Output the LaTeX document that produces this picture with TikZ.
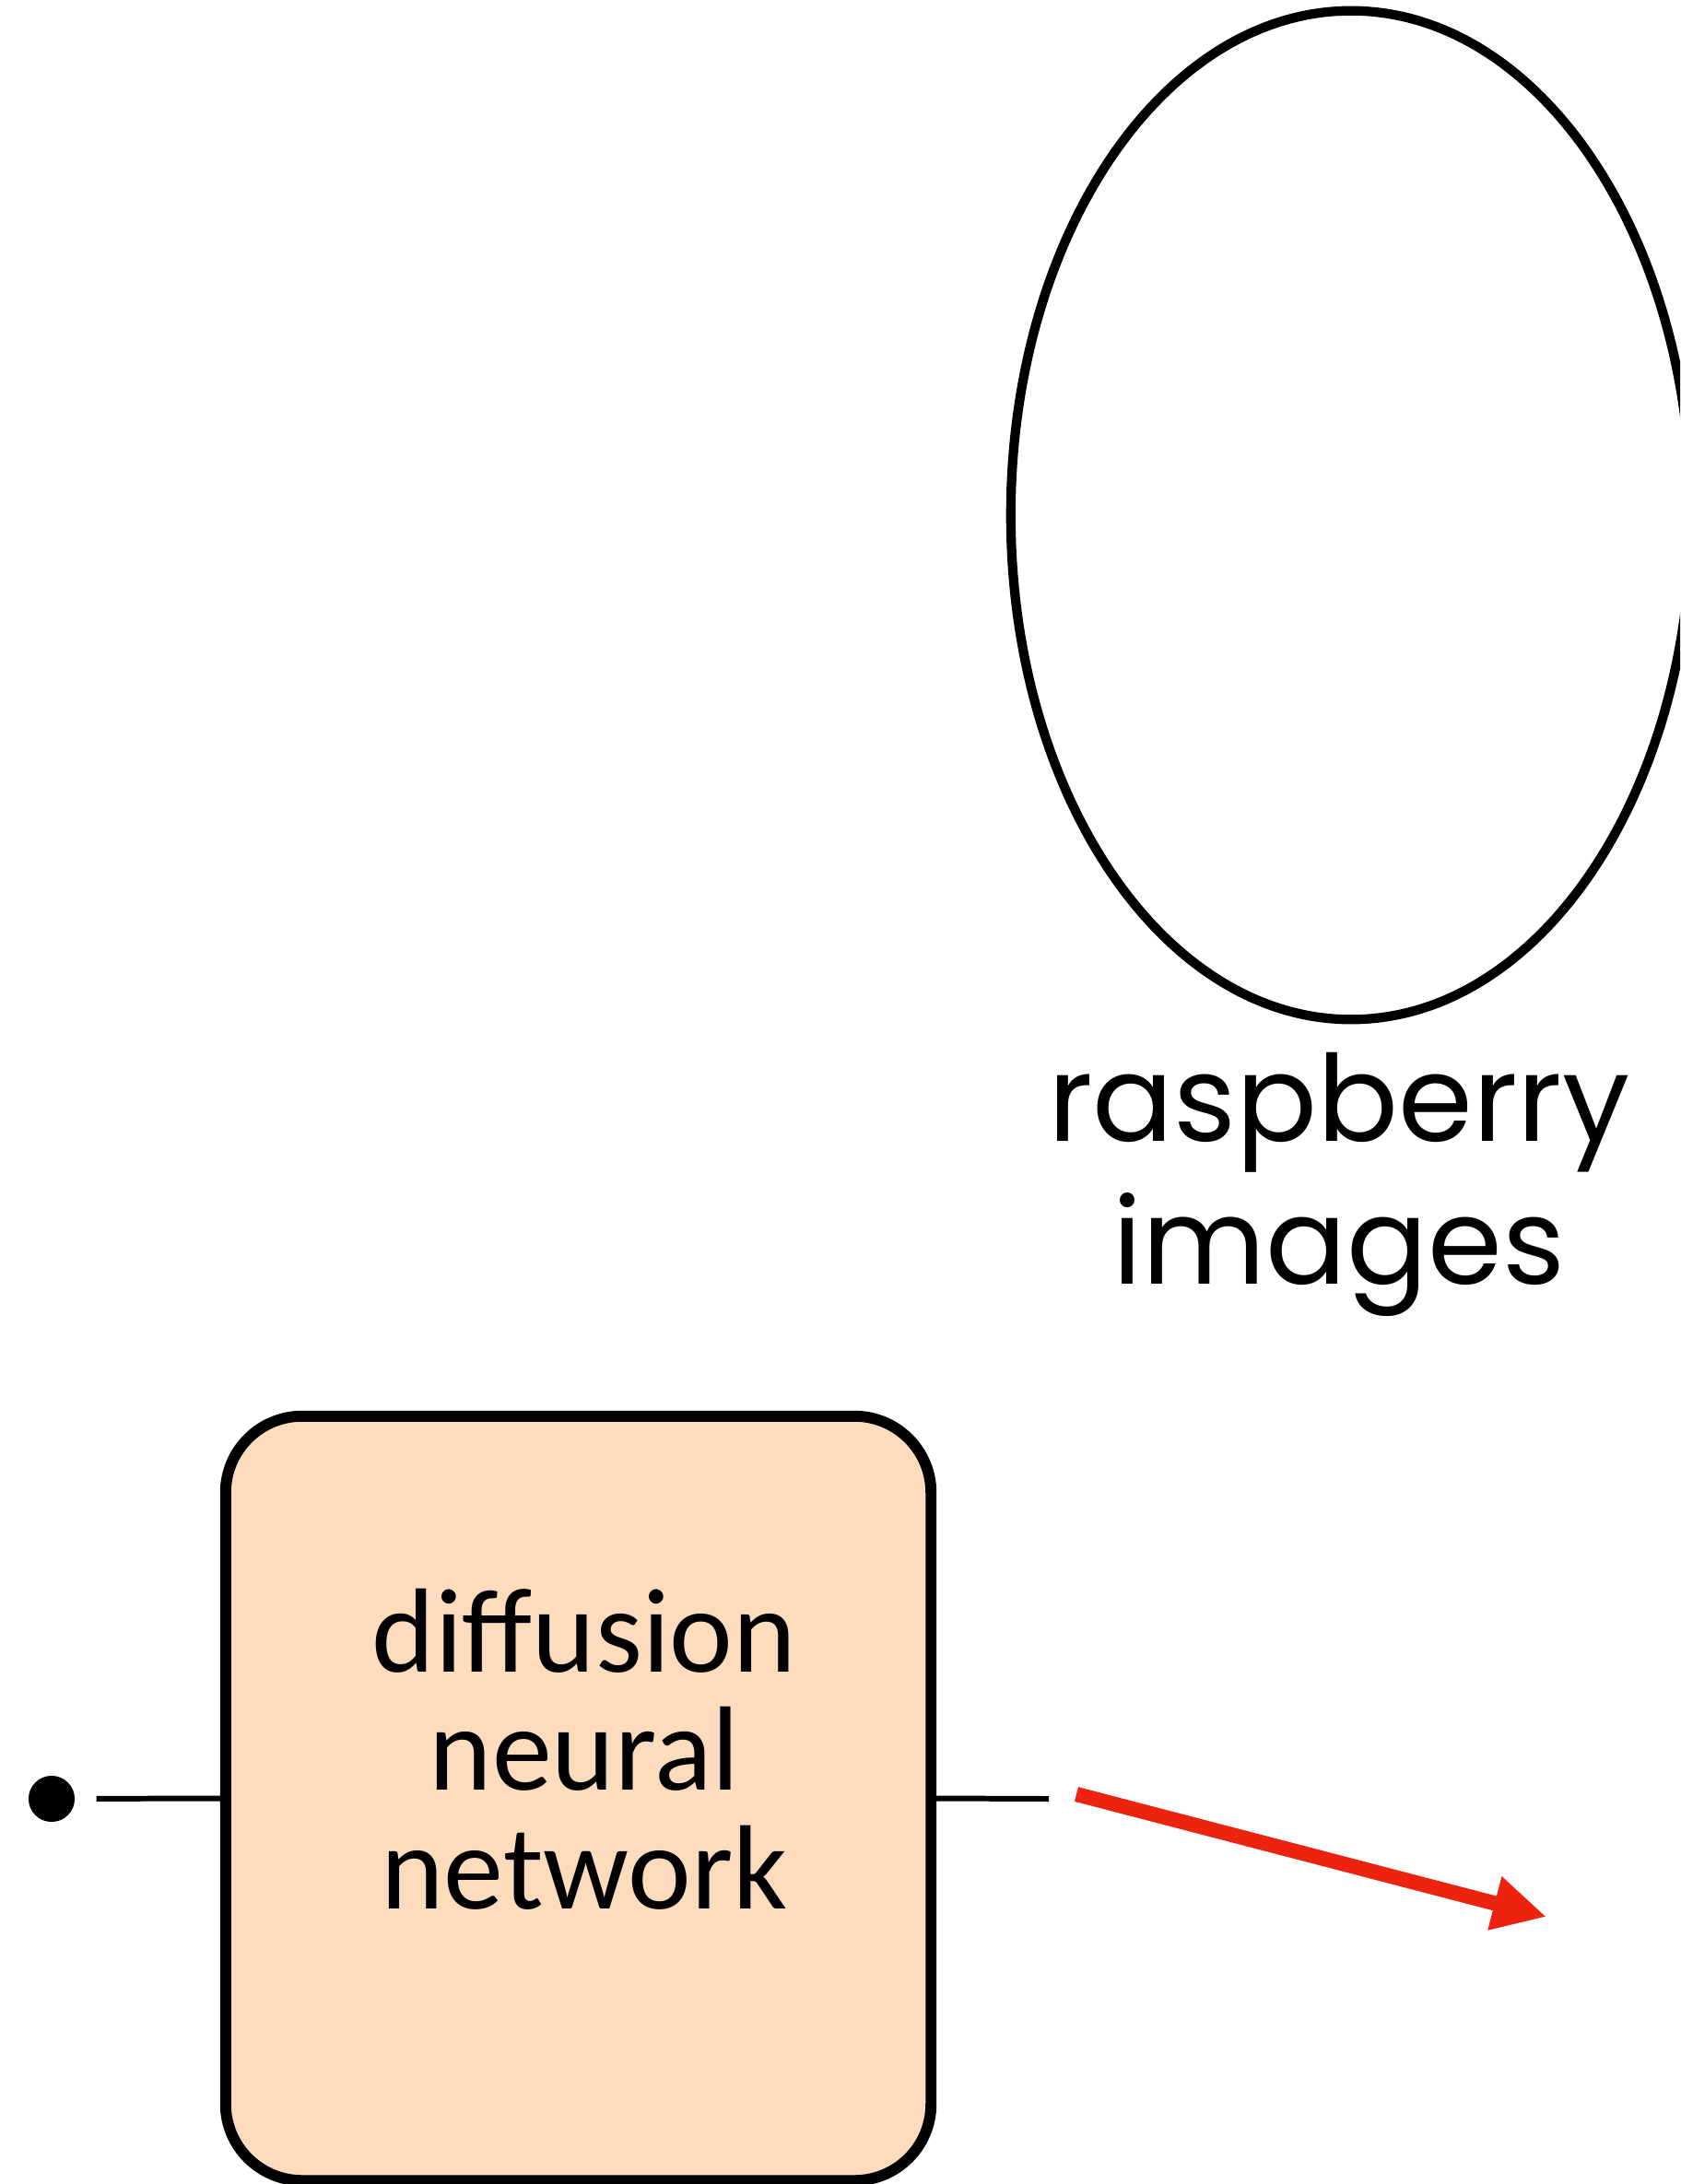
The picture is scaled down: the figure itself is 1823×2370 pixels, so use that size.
\documentclass[tikz,border=0pt]{standalone}
\usepackage{fontspec}
\setmainfont{Carlito}
\newfontfamily\geofont{Poppins}
\usetikzlibrary{shapes.geometric,arrows.meta,positioning}
\definecolor{salmon}{RGB}{253,219,189}
\definecolor{rojo}{RGB}{238,35,15}

\begin{document}
\begin{tikzpicture}[
    x=0.01cm,
    y=-0.01cm,
    conjunto/.style={draw, ellipse, line width=2.9pt, minimum width=7.38cm, minimum height=10.94cm, inner sep=0pt},
    caja/.style={draw, fill=salmon, line width=3.4pt, rounded corners=0.83cm, minimum width=7.65cm, minimum height=8.29cm},
    rotulo/.style={font=\geofont\fontsize{37}{44}\selectfont, align=center},
    texto/.style={font=\fontsize{37}{36.6}\selectfont, align=center},
    punto/.style={circle, fill=black, minimum size=0.5cm, inner sep=0pt},
    linea/.style={line width=1.7pt},
    flecha/.style={draw=rojo, line width=4.6pt, -{Triangle[length=0.58cm, width=0.56cm]}}
]
\useasboundingbox (0,0) rectangle (1823,2370);
\clip (0,0) rectangle (1823,2370);

% Conjunto de imágenes
\node[conjunto] (frambuesas) at (1466,559) {};
\node[rotulo, anchor=north] (etiqueta) at (1453,1130) {raspberry\\images};

% Red neuronal
\node[caja] (red) at (627.5,1951.5) {};
\node[texto] (nombre) at (634,1898) {diffusion\\neural\\network};

% Entrada y salida
\node[punto] (entrada) at (56,1952) {};
\coordinate (salida) at (1138,1952);
\draw[linea, shorten <=0.23cm] (entrada) -- (red.west);
\draw[linea] (red.east) -- (salida);

% Flecha
\coordinate (inicio) at (1168,1947);
\coordinate (punta) at (1678,2080);
\draw[flecha] (inicio) -- (punta);
\end{tikzpicture}
\end{document}
